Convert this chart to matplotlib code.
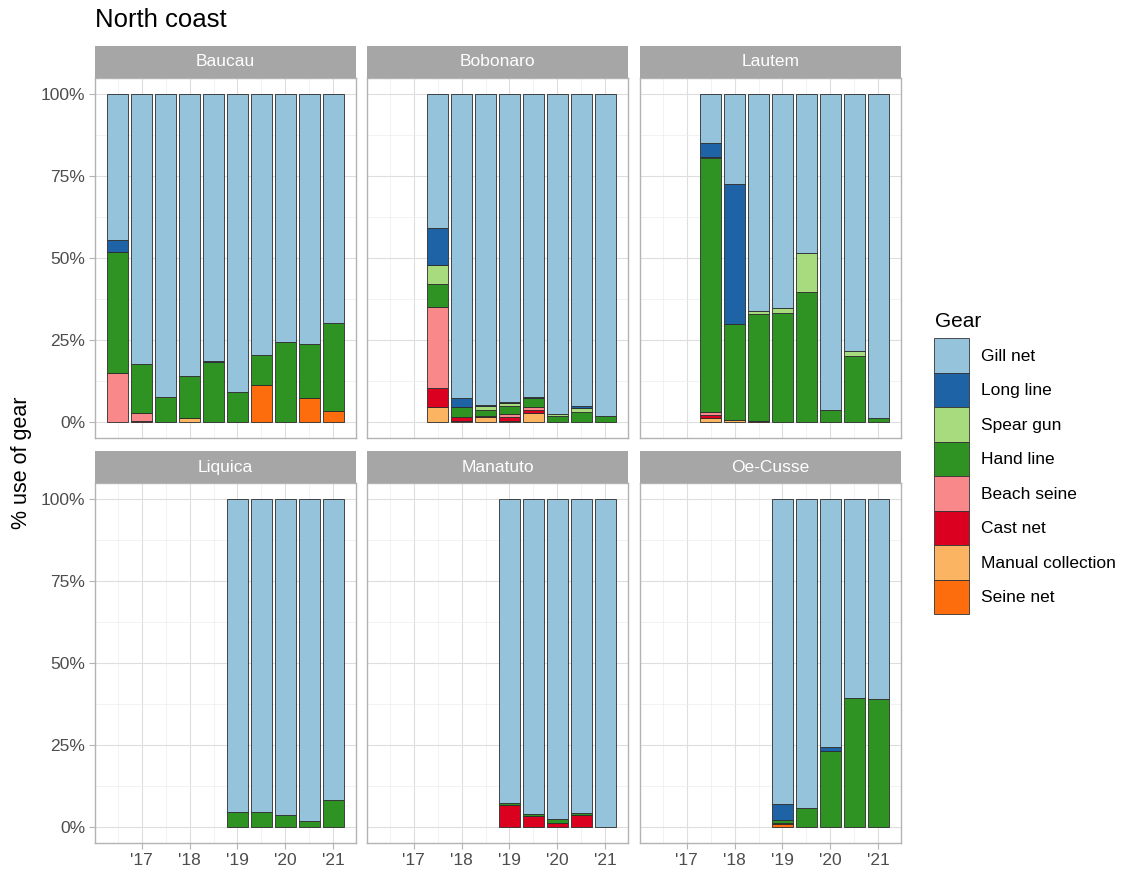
import matplotlib
matplotlib.use("Agg")
import matplotlib.pyplot as plt
from matplotlib.patches import Patch
import numpy as np

plt.rcParams['font.family'] = ['Liberation Sans', 'DejaVu Sans']

# gear order as in the legend (top of stack first)
gears = ["Gill net", "Long line", "Spear gun", "Hand line",
         "Beach seine", "Cast net", "Manual collection", "Seine net"]
gear_colors = ["#96C3DC", "#1D63A6", "#A8DB7E", "#2E9323",
               "#F8888A", "#DB0020", "#FBB462", "#FD6C0D"]

# half-year periods
baucau_periods = [2016.5, 2017, 2017.5, 2018, 2018.5, 2019, 2019.5, 2020, 2020.5, 2021]
baucau = {
    "Seine net":         [0, 0, 0, 0, 0, 0, 11.2, 0, 7.1, 3.3],
    "Manual collection": [0, 0, 0, 1.1, 0, 0, 0, 0, 0, 0],
    "Cast net":          [0, 0.3, 0, 0, 0, 0, 0, 0, 0, 0],
    "Beach seine":       [14.8, 2.4, 0, 0, 0, 0, 0, 0, 0, 0],
    "Hand line":         [36.9, 14.9, 7.4, 12.7, 18.1, 9.0, 9.1, 24.2, 16.6, 26.8],
    "Spear gun":         [0, 0, 0, 0, 0, 0, 0, 0, 0, 0],
    "Long line":         [3.8, 0, 0, 0, 0.3, 0, 0, 0, 0, 0],
    "Gill net":          [44.5, 82.4, 92.6, 86.2, 81.6, 91.0, 79.7, 75.8, 76.3, 69.9],
}

bobonaro_periods = [2017.5, 2018, 2018.5, 2019, 2019.5, 2020, 2020.5, 2021]
bobonaro = {
    "Seine net":         [0, 0, 0, 0, 0, 0, 0, 0],
    "Manual collection": [4.6, 0.3, 1.5, 0.3, 2.5, 0, 0, 0],
    "Cast net":          [5.7, 1.2, 0.2, 1.0, 1.0, 0, 0, 0],
    "Beach seine":       [24.6, 0, 0, 1.0, 1.0, 0, 0, 0],
    "Hand line":         [7.3, 2.9, 2.0, 2.4, 2.6, 1.8, 2.8, 1.8],
    "Spear gun":         [5.7, 0.2, 1.2, 0.9, 0, 0.4, 1.3, 0],
    "Long line":         [11.2, 2.7, 0.3, 0.3, 0.4, 0, 0.8, 0],
    "Gill net":          [40.9, 92.7, 94.8, 94.1, 92.5, 97.8, 95.1, 98.2],
}

lautem_periods = [2017.5, 2018, 2018.5, 2019, 2019.5, 2020, 2020.5, 2021]
lautem = {
    "Seine net":         [0, 0, 0, 0, 0, 0, 0, 0],
    "Manual collection": [1.0, 0.6, 0, 0, 0, 0, 0, 0],
    "Cast net":          [1.0, 0, 0.3, 0, 0, 0, 0, 0],
    "Beach seine":       [0.8, 0, 0, 0, 0, 0, 0, 0],
    "Hand line":         [77.7, 29.2, 32.6, 33.2, 39.5, 3.6, 20.1, 1.0],
    "Spear gun":         [0.5, 0, 1.0, 1.4, 11.9, 0, 1.4, 0],
    "Long line":         [4.0, 42.9, 0, 0, 0, 0, 0, 0],
    "Gill net":          [15.0, 27.3, 66.1, 65.4, 48.6, 96.4, 78.5, 99.0],
}

liquica_periods = [2019, 2019.5, 2020, 2020.5, 2021]
liquica = {
    "Hand line": [4.6, 4.5, 3.5, 1.8, 8.1],
    "Gill net":  [95.4, 95.5, 96.5, 98.2, 91.9],
}

manatuto_periods = [2019, 2019.5, 2020, 2020.5, 2021]
manatuto = {
    "Cast net":  [6.5, 3.1, 1.0, 3.7, 0],
    "Hand line": [0.8, 0.7, 1.4, 0.5, 0],
    "Gill net":  [92.7, 96.2, 97.6, 95.8, 100],
}

oecusse_periods = [2019, 2019.5, 2020, 2020.5, 2021]
oecusse = {
    "Seine net": [0.8, 0, 0, 0, 0],
    "Cast net":  [0.3, 0, 0, 0, 0],
    "Hand line": [0.9, 5.8, 23.1, 39.4, 38.9],
    "Long line": [4.8, 0, 1.2, 0, 0],
    "Gill net":  [93.2, 94.2, 75.7, 60.6, 61.1],
}

panels = [("Baucau", baucau_periods, baucau),
          ("Bobonaro", bobonaro_periods, bobonaro),
          ("Lautem", lautem_periods, lautem),
          ("Liquica", liquica_periods, liquica),
          ("Manatuto", manatuto_periods, manatuto),
          ("Oe-Cusse", oecusse_periods, oecusse)]

year_ticks = [2017, 2018, 2019, 2020, 2021]
year_labels = ["'17", "'18", "'19", "'20", "'21"]

W, H = 1121, 874
fig = plt.figure(figsize=(W / 100, H / 100), dpi=100)

def px_axes(x0, y0, w, h):
    # pixel box (top-left origin) -> figure axes
    return fig.add_axes([x0 / W, 1 - (y0 + h) / H, w / W, h / H])

col_left = [95, 367, 640]
pw = 261
row_top = [78, 483]
ph = 360
strip_h = 32
border = "#B3B3B3"
txt_col = "#4D4D4D"
fs = 12.5

for i, (name, periods, shares) in enumerate(panels):
    r, c = divmod(i, 3)
    ax = px_axes(col_left[c], row_top[r], pw, ph)
    cum = np.zeros(len(periods))
    for g, col in zip(gears[::-1], gear_colors[::-1]):
        if g not in shares:
            continue
        vals = np.array(shares[g], dtype=float)
        keep = vals > 0
        ax.bar(np.array(periods)[keep], vals[keep], bottom=cum[keep], width=0.45,
               color=col, edgecolor="#2B2B2B", linewidth=0.6, zorder=3)
        cum += vals

    ax.set_xlim(2016.03, 2021.47)
    ax.set_ylim(-5, 105)
    ax.set_xticks(year_ticks)
    ax.set_xticks([2016.5, 2017.5, 2018.5, 2019.5, 2020.5], minor=True)
    ax.set_yticks([0, 25, 50, 75, 100])
    ax.set_yticks([12.5, 37.5, 62.5, 87.5], minor=True)
    ax.grid(which="major", color="#DEDEDE", linewidth=0.8, zorder=0)
    ax.grid(which="minor", color="#EDEDED", linewidth=0.5, zorder=0)
    ax.set_axisbelow(True)
    for s in ax.spines.values():
        s.set_color(border)
        s.set_linewidth(1.0)
    ax.tick_params(which="minor", length=0)
    ax.tick_params(which="major", color=border, length=4, width=0.8,
                   labelcolor=txt_col, labelsize=fs, pad=3)

    if r == 1:
        ax.set_xticklabels(year_labels)
    else:
        ax.set_xticklabels([])
        ax.tick_params(axis="x", length=0)
    if c == 0:
        ax.set_yticklabels(["0%", "25%", "50%", "75%", "100%"])
    else:
        ax.set_yticklabels([])
        ax.tick_params(axis="y", length=0)

    st = px_axes(col_left[c], row_top[r] - strip_h, pw, strip_h)
    st.set_facecolor("#A6A6A6")
    st.set_xticks([])
    st.set_yticks([])
    for s in st.spines.values():
        s.set_visible(False)
    st.text(0.5, 0.5, name, color="white", fontsize=fs,
            ha="center", va="center", transform=st.transAxes)

fig.text(95 / W, 1 - 20 / H, "North coast", fontsize=18.5, ha="left", va="center")
fig.text(22 / W, 1 - 463 / H, "% use of gear", fontsize=15.5, rotation=90,
         ha="center", va="center")

# legend: title placed separately to get the ggplot-style gap
fig.text(935 / W, 1 - 327 / H, "Gear", fontsize=15, ha="left", va="baseline")
handles = [Patch(facecolor=c, edgecolor="#333333", linewidth=0.6, label=g)
           for g, c in zip(gears, gear_colors)]
leg = fig.legend(handles=handles, loc="upper left",
                 bbox_to_anchor=(922 / W, 1 - 326 / H), frameon=False,
                 fontsize=fs, handlelength=1.99,
                 handleheight=2.68, labelspacing=0.0, handletextpad=0.69,
                 borderpad=0.2)

fig.savefig("out.png", dpi=100)
